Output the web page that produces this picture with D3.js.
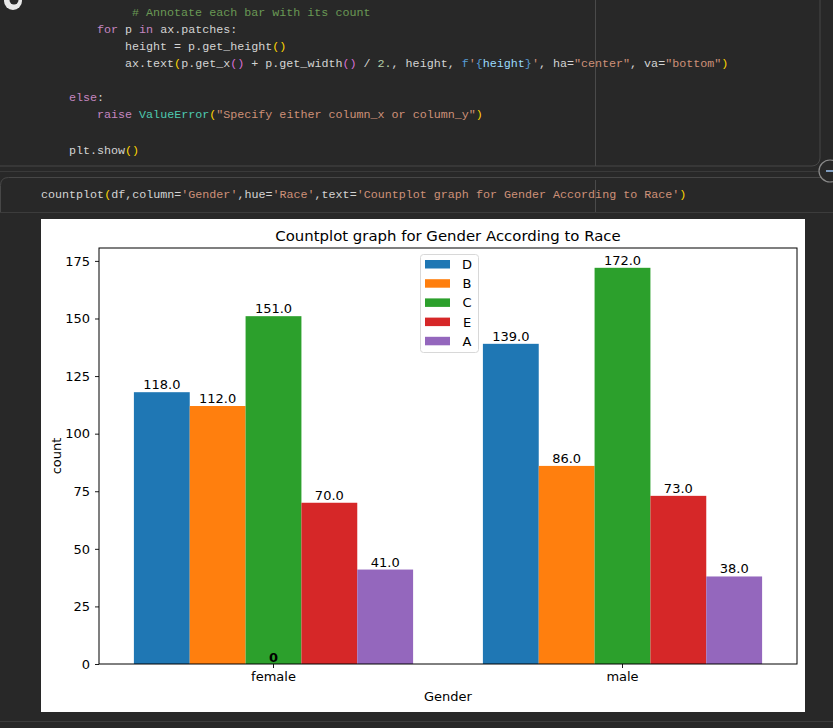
<!DOCTYPE html>
<html>
<head>
<meta charset="utf-8">
<script src="https://cdn.jsdelivr.net/npm/d3@7"></script>
<style>
  html, body { margin: 0; padding: 0; background: #282828; }
  svg { display: block; }
</style>
</head>
<body>
<svg id="page" width="833" height="728"></svg>
<script>
// ---------------- DATA ----------------
const genders = ["female", "male"];
const races = ["D", "B", "C", "E", "A"];
const femaleCounts = [118, 112, 151, 70, 41];
const maleCounts = [139, 86, 172, 73, 38];
const raceColors = ["#1f77b4", "#ff7f0e", "#2ca02c", "#d62728", "#9467bd"];
const yTicks = [0, 25, 50, 75, 100, 125, 150, 175];
const chartTitle = "Countplot graph for Gender According to Race";
const xLabel = "Gender";
const yLabel = "count";

// ---------------- CODE CELL TEXT ----------------
const C = { w: "#d4d4d4", kw: "#c586c0", cm: "#6a9955", st: "#ce9178", br: "#ffd700", br2: "#da70d6",
            num: "#b5cea8", bl: "#569cd6", var: "#9cdcfe", cls: "#4ec9b0" };
const codeLines = [
  { y: 16, col: 13, t: [["# Annotate each bar with its count", C.cm]] },
  { y: 33, col: 8, t: [["for", C.kw], [" p ", C.w], ["in", C.kw], [" ax.patches:", C.w]] },
  { y: 50, col: 12, t: [["height = p.get_height", C.w], ["()", C.br]] },
  { y: 67, col: 12, t: [["ax.text", C.w], ["(", C.br], ["p.get_x", C.w], ["()", C.br2], [" + p.get_width", C.w],
      ["()", C.br2], [" / ", C.w], ["2.", C.num], [", height, ", C.w], ["f", C.bl], ["'", C.st], ["{", C.bl],
      ["height", C.var], ["}", C.bl], ["'", C.st], [", ha=", C.w], ["\"center\"", C.st], [", va=", C.w],
      ["\"bottom\"", C.st], [")", C.br]] },
  { y: 101, col: 4, t: [["else", C.kw], [":", C.w]] },
  { y: 118, col: 8, t: [["raise", C.kw], [" ", C.w], ["ValueError", C.cls], ["(", C.br],
      ["\"Specify either column_x or column_y\"", C.st], [")", C.br]] },
  { y: 154, col: 4, t: [["plt.show", C.w], ["()", C.br]] },
  { y: 198, col: 0, t: [["countplot", C.w], ["(", C.br], ["df,column=", C.w], ["'Gender'", C.st], [",hue=", C.w],
      ["'Race'", C.st], [",text=", C.w], ["'Countplot graph for Gender According to Race'", C.st], [")", C.br]] }
];

const svg = d3.select("#page");

// ---------------- NOTEBOOK CHROME ----------------
svg.append("rect").attr("x", -20).attr("y", -20).attr("width", 840).attr("height", 186)
  .attr("rx", 8).attr("fill", "none").attr("stroke", "#474747").attr("stroke-width", 1);
svg.append("line").attr("x1", 0).attr("x2", 833).attr("y1", 171.5).attr("y2", 171.5)
  .attr("stroke", "#3a3a3a");
svg.append("path").attr("d", "M0.5,212 L0.5,185.5 Q0.5,177.5 8.5,177.5 L833,177.5")
  .attr("fill", "none").attr("stroke", "#474747").attr("stroke-width", 1);
svg.append("line").attr("x1", 0).attr("x2", 833).attr("y1", 212.5).attr("y2", 212.5)
  .attr("stroke", "#3c3c3c");
svg.append("line").attr("x1", 0).attr("x2", 833).attr("y1", 721.5).attr("y2", 721.5)
  .attr("stroke", "#3c3c3c");
// ruler lines
svg.append("line").attr("x1", 595.5).attr("x2", 595.5).attr("y1", 0).attr("y2", 166)
  .attr("stroke", "#4a4a4a");
svg.append("line").attr("x1", 595.5).attr("x2", 595.5).attr("y1", 180).attr("y2", 212)
  .attr("stroke", "#4a4a4a");
// run status icon (partially visible)
svg.append("circle").attr("cx", 13).attr("cy", 1).attr("r", 9).attr("fill", "#e8e8e8");
svg.append("circle").attr("cx", 14).attr("cy", 0).attr("r", 4.5).attr("fill", "#282828");
// add-cell button (partially visible)
svg.append("circle").attr("cx", 830).attr("cy", 171).attr("r", 11).attr("fill", "#282828")
  .attr("stroke", "#8a8a8a").attr("stroke-width", 1.2);
svg.append("line").attr("x1", 826).attr("x2", 833).attr("y1", 171).attr("y2", 171)
  .attr("stroke", "#9cc3f0").attr("stroke-width", 1.5);

const code = svg.append("g")
  .style("font-family", "'Liberation Mono', 'DejaVu Sans Mono', monospace")
  .style("font-size", "11.7px");
const charW = 7;
codeLines.forEach(line => {
  const txt = code.append("text").attr("x", 41 + line.col * charW).attr("y", line.y)
    .attr("xml:space", "preserve");
  line.t.forEach(([s, c]) => txt.append("tspan").attr("fill", c).text(s));
});

// ---------------- FIGURE ----------------
svg.append("rect").attr("x", 41).attr("y", 219).attr("width", 764).attr("height", 493).attr("fill", "#ffffff");

const plot = { left: 99, right: 797, top: 248, bottom: 664 };
const fontMain = "'DejaVu Sans', sans-serif";

const x0 = d3.scaleBand().domain(genders).range([plot.left, plot.right]).paddingInner(0).paddingOuter(0);
const x1 = d3.scaleBand().domain(races).range([x0.bandwidth() * 0.1, x0.bandwidth() * 0.9]).padding(0);
const yMax = d3.max(femaleCounts.concat(maleCounts)) * 1.05;
const y = d3.scaleLinear().domain([0, yMax]).range([plot.bottom, plot.top]);

const countsByGender = { female: femaleCounts, male: maleCounts };
const barData = [];
genders.forEach(g => races.forEach((r, i) => barData.push({ g, r, i, v: countsByGender[g][i] })));

const chart = svg.append("g");
chart.selectAll("rect.bar").data(barData).enter().append("rect")
  .attr("class", "bar")
  .attr("x", d => x0(d.g) + x1(d.r))
  .attr("y", d => y(d.v))
  .attr("width", x1.bandwidth())
  .attr("height", d => y(0) - y(d.v))
  .attr("fill", d => raceColors[d.i]);

chart.selectAll("text.lbl").data(barData).enter().append("text")
  .attr("class", "lbl")
  .attr("x", d => x0(d.g) + x1(d.r) + x1.bandwidth() / 2)
  .attr("y", d => y(d.v) - 3)
  .attr("text-anchor", "middle")
  .style("font-family", fontMain).style("font-size", "13px").attr("fill", "#000")
  .text(d => d.v.toFixed(1));

// stray "0" annotation (from the extra zero-height patch)
chart.append("text")
  .attr("x", x0("female") + x0.bandwidth() / 2)
  .attr("y", y(0) - 2)
  .attr("text-anchor", "middle")
  .style("font-family", fontMain).style("font-size", "13px").style("font-weight", "bold")
  .attr("fill", "#000").text("0");

// axes
const yAxis = d3.axisLeft(y).tickValues(yTicks).tickSize(4).tickPadding(5).tickFormat(d3.format("d"));
const gy = svg.append("g").attr("transform", `translate(${plot.left},0)`).call(yAxis);
gy.select(".domain").remove();
gy.selectAll("text").style("font-family", fontMain).style("font-size", "13px").attr("fill", "#000");
gy.selectAll("line").attr("stroke", "#000").attr("stroke-width", 0.9);

const xAxis = d3.axisBottom(x0).tickSize(4).tickPadding(4);
const gx = svg.append("g").attr("transform", `translate(0,${plot.bottom})`).call(xAxis);
gx.select(".domain").remove();
gx.selectAll("text").style("font-family", fontMain).style("font-size", "13px").attr("fill", "#000");
gx.selectAll("line").attr("stroke", "#000").attr("stroke-width", 0.9);

// spines
svg.append("rect").attr("x", plot.left).attr("y", plot.top)
  .attr("width", plot.right - plot.left).attr("height", plot.bottom - plot.top)
  .attr("fill", "none").attr("stroke", "#000").attr("stroke-width", 1);

// title and labels
svg.append("text").attr("x", (plot.left + plot.right) / 2).attr("y", 241)
  .attr("text-anchor", "middle").style("font-family", fontMain).style("font-size", "14.9px")
  .attr("fill", "#000").text(chartTitle);
svg.append("text").attr("x", (plot.left + plot.right) / 2).attr("y", 701)
  .attr("text-anchor", "middle").style("font-family", fontMain).style("font-size", "13px")
  .attr("fill", "#000").text(xLabel);
svg.append("text").attr("transform", `translate(61,${(plot.top + plot.bottom) / 2}) rotate(-90)`)
  .attr("text-anchor", "middle").style("font-family", fontMain).style("font-size", "13px")
  .attr("fill", "#000").text(yLabel);

// legend
const leg = svg.append("g").attr("transform", "translate(420,254)");
leg.append("rect").attr("x", 0.5).attr("y", 0.5).attr("width", 58).attr("height", 98).attr("rx", 3)
  .attr("fill", "#fff").attr("fill-opacity", 0.8).attr("stroke", "#d8d8d8");
races.forEach((r, i) => {
  leg.append("rect").attr("x", 5).attr("y", 6 + i * 19.2).attr("width", 25).attr("height", 8.5)
    .attr("fill", raceColors[i]);
  leg.append("text").attr("x", 47).attr("y", 15 + i * 19.2).attr("text-anchor", "middle")
    .style("font-family", fontMain).style("font-size", "13px").attr("fill", "#000").text(r);
});
</script>
</body>
</html>
